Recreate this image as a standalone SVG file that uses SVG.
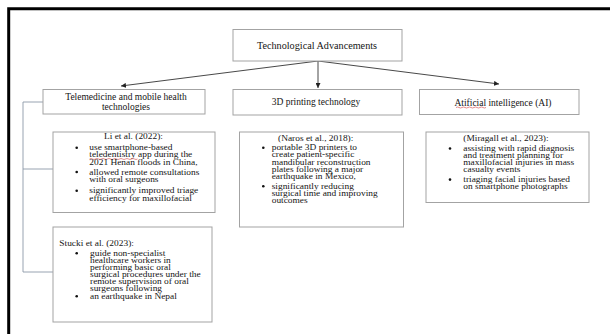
<svg xmlns="http://www.w3.org/2000/svg" width="610" height="334" viewBox="0 0 610 334">
<style>
.box{fill:#fff;stroke:#a3a3a3;stroke-width:1}
.t{font-family:"Liberation Serif","Times New Roman",serif;fill:#141414}
.lbl{font-size:9.5px}
.top{font-size:10.2px}
.b{font-size:9.4px}
.dot{fill:#111}
.arr{stroke:#333;stroke-width:0.9;fill:none}
.con{stroke:#8c98a8;stroke-width:0.9;fill:none}
.sq{stroke:#d04040;stroke-width:0.6;fill:none}
</style>
<defs>
<marker id="ah" viewBox="0 0 10 10" refX="10" refY="5" markerWidth="5" markerHeight="5" markerUnits="userSpaceOnUse" orient="auto">
<path d="M0,0 L10,5 L0,10 z" fill="#222"/>
</marker>
</defs>
<rect width="610" height="334" fill="#fff"/>
<path d="M8.7,340 V8.7 H615" stroke="#000" stroke-width="3" fill="none"/>

<g id="connectors">
<path class="arr" d="M318,61 L121,86" marker-end="url(#ah)"/>
<path class="arr" d="M318,61 L318,88" marker-end="url(#ah)"/>
<path class="arr" d="M318,61 L499,84" marker-end="url(#ah)"/>
<path class="con" d="M43,102 H23 V272 H53"/>
<path class="con" d="M23,169 H53"/>
</g>

<g id="n-top">
<rect class="box" x="233" y="29.5" width="169" height="31.5"/>
<text class="t top" x="317" y="49" text-anchor="middle">Technological Advancements</text>
</g>

<g id="n-tele">
<rect class="box" x="43" y="89.5" width="162" height="24.5"/>
<text class="t lbl" x="126" y="100" text-anchor="middle">Telemedicine and mobile health</text>
<text class="t lbl" x="126" y="109.5" text-anchor="middle">technologies</text>
</g>

<g id="n-3d">
<rect class="box" x="233" y="89.5" width="169" height="25.5"/>
<text class="t lbl" x="316" y="104.5" text-anchor="middle">3D printing technology</text>
</g>

<g id="n-ai">
<rect class="box" x="419.5" y="89.5" width="159.5" height="25"/>
<text class="t lbl" x="503" y="105.5" text-anchor="middle">Atificial intelligence (AI)</text>
<path class="sq" d="M456,107.5 q1.5,-1 3,0 t3,0 t3,0 t3,0 t3,0 t3,0 t3,0 t3,0 t3,0 t3,0"/>
</g>

<g id="n-li">
<rect class="box" x="53" y="132" width="162" height="80.5"/>
<text class="t b" transform="translate(104,139) scale(1,0.88)">Li et al. (2022):</text>
<circle class="dot" cx="76.7" cy="147.7" r="1.3"/>
<text class="t b" transform="translate(89.3,150.3) scale(1,0.88)">use smartphone-based</text>
<text class="t b" transform="translate(89.3,157.3) scale(1,0.88)">teledentistry app during the</text>
<path class="sq" d="M89.5,159 q1.5,-1 3,0 t3,0 t3,0 t3,0 t3,0 t3,0 t3,0 t3,0 t3,0 t3,0 t3,0 t3,0 t3,0 t3,0 t3,0 t3,0"/>
<text class="t b" transform="translate(89.3,164.5) scale(1,0.88)">2021 Henan floods in China,</text>
<circle class="dot" cx="76.7" cy="172" r="1.3"/>
<text class="t b" transform="translate(89.3,174.8) scale(1,0.88)">allowed remote consultations</text>
<text class="t b" transform="translate(89.3,182) scale(1,0.88)">with oral surgeons</text>
<circle class="dot" cx="76.7" cy="190.7" r="1.3"/>
<text class="t b" transform="translate(89.3,193.3) scale(1,0.88)">significantly improved triage</text>
<text class="t b" transform="translate(89.3,200.5) scale(1,0.88)">efficiency for maxillofacial</text>
</g>

<g id="n-stucki">
<rect class="box" x="53" y="227" width="159" height="95"/>
<text class="t b" transform="translate(59.3,246) scale(1,0.88)">Stucki et al. (2023):</text>
<circle class="dot" cx="76.7" cy="253.3" r="1.3"/>
<text class="t b" transform="translate(90,256) scale(1,0.88)">guide non-specialist</text>
<text class="t b" transform="translate(90,263) scale(1,0.88)">healthcare workers in</text>
<text class="t b" transform="translate(90,270.2) scale(1,0.88)">performing basic oral</text>
<text class="t b" transform="translate(90,277.3) scale(1,0.88)">surgical procedures under the</text>
<text class="t b" transform="translate(90,284.4) scale(1,0.88)">remote supervision of oral</text>
<text class="t b" transform="translate(90,291.4) scale(1,0.88)">surgeons following</text>
<circle class="dot" cx="76.7" cy="296.3" r="1.3"/>
<text class="t b" transform="translate(90,299) scale(1,0.88)">an earthquake in Nepal</text>
</g>

<g id="n-naros">
<rect class="box" x="239.5" y="132" width="164" height="95"/>
<text class="t b" transform="translate(278,141) scale(1,0.88)">(Naros et al., 2018):</text>
<circle class="dot" cx="263.3" cy="147.7" r="1.3"/>
<text class="t b" transform="translate(271.7,150.3) scale(1,0.88)">portable 3D printers to</text>
<text class="t b" transform="translate(271.7,157.3) scale(1,0.88)">create patient-specific</text>
<text class="t b" transform="translate(271.7,164.5) scale(1,0.88)">mandibular reconstruction</text>
<text class="t b" transform="translate(271.7,171.7) scale(1,0.88)">plates following a major</text>
<text class="t b" transform="translate(271.7,178.8) scale(1,0.88)">earthquake in Mexico,</text>
<circle class="dot" cx="263.3" cy="186.3" r="1.3"/>
<text class="t b" transform="translate(271.7,189) scale(1,0.88)">significantly reducing</text>
<text class="t b" transform="translate(271.7,196.2) scale(1,0.88)">surgical time and improving</text>
<text class="t b" transform="translate(271.7,203.2) scale(1,0.88)">outcomes</text>
</g>

<g id="n-miragall">
<rect class="box" x="426" y="132" width="163" height="70.5"/>
<text class="t b" transform="translate(463.3,141) scale(1,0.88)">(Miragall et al., 2023):</text>
<circle class="dot" cx="450" cy="148.5" r="1.3"/>
<text class="t b" transform="translate(463.3,151.2) scale(1,0.88)">assisting with rapid diagnosis</text>
<text class="t b" transform="translate(463.3,158) scale(1,0.88)">and treatment planning for</text>
<text class="t b" transform="translate(463.3,165.2) scale(1,0.88)">maxillofacial injuries in mass</text>
<text class="t b" transform="translate(463.3,172) scale(1,0.88)">casualty events</text>
<circle class="dot" cx="450" cy="179.6" r="1.3"/>
<text class="t b" transform="translate(463.3,182.3) scale(1,0.88)">triaging facial injuries based</text>
<text class="t b" transform="translate(463.3,189) scale(1,0.88)">on smartphone photographs</text>
</g>
</svg>
